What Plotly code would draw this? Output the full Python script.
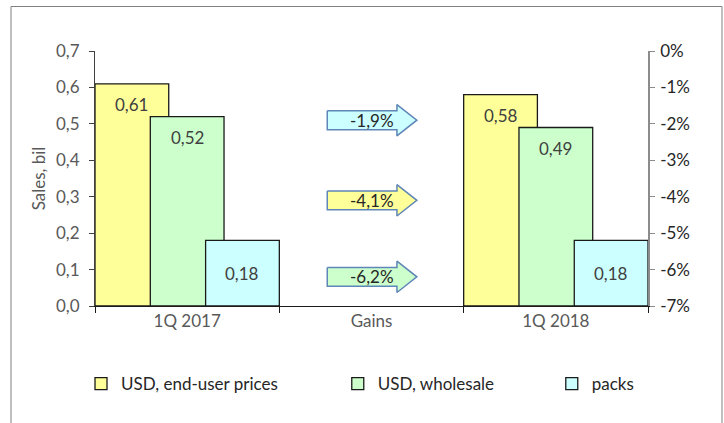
import plotly.graph_objects as go

# ---- data ----
categories = ["1Q 2017", "Gains", "1Q 2018"]
bar_periods = ["1Q 2017", "1Q 2018"]
series_names = ["USD, end-user prices", "USD, wholesale", "packs"]
end_user = [0.61, 0.58]
wholesale = [0.52, 0.49]
packs = [0.18, 0.18]
gains = [-4.1, -6.2, -1.9]          # end-user, wholesale, packs (%)
y_ticks = [0, 0.1, 0.2, 0.3, 0.4, 0.5, 0.6, 0.7]
y2_tickvals = [0, -1, -2, -3, -4, -5, -6, -7]
y2_ticktext = ["0%", "-1%", "-2%", "-3%", "-4%", "-5%", "-6%", "-7%"]

colors = ["#FFFF99", "#CCFFCC", "#CCFFFF"]
FONT = "Lato"
GRAY = "#595959"
FS = 17

BAR_W = 0.4
offsets = [-0.5, -0.2, 0.1]
series_values = [end_user, wholesale, packs]

fig = go.Figure()
legend_ids = ["legend", "legend2", "legend3"]
for name, vals, col, off, lg in zip(series_names, series_values, colors, offsets, legend_ids):
    fig.add_trace(go.Bar(
        x=bar_periods, y=vals, name=name, width=BAR_W, offset=off,
        marker=dict(color=col, line=dict(color="#1a1a1a", width=1.3)),
        legend=lg, hoverinfo="skip",
    ))

# gain arrows (on secondary axes)
BH, HH = 0.26, 0.43
XL, XB, XT = -0.24, 0.138, 0.246
xc = categories.index("Gains")
for v, col in zip(gains, colors):
    xs = [xc + XL, xc + XB, xc + XB, xc + XT, xc + XB, xc + XB, xc + XL, xc + XL]
    ys = [v + BH, v + BH, v + HH, v, v - HH, v - BH, v - BH, v + BH]
    fig.add_trace(go.Scatter(
        x=xs, y=ys, xaxis="x2", yaxis="y2", mode="lines", fill="toself",
        fillcolor=col, line=dict(color="#5F86B8", width=1.5),
        showlegend=False, hoverinfo="skip",
    ))
    fig.add_annotation(
        x=xc, y=v, xref="x2", yref="y2",
        text=f"{v:.1f}".replace(".", ",") + "%", showarrow=False,
        font=dict(family=FONT, size=FS, color="#262626"),
    )

# bar value labels
for vals, off in zip(series_values, offsets):
    for period, v in zip(bar_periods, vals):
        xi = categories.index(period) + off + BAR_W / 2
        tall = v > 0.3
        fig.add_annotation(
            x=xi, y=v if tall else v / 2, xref="x2", yref="y",
            yanchor="top" if tall else "middle", yshift=-8 if tall else 0,
            text=f"{v:.2f}".replace(".", ","), showarrow=False,
            font=dict(family=FONT, size=FS, color="#404040"),
        )

# outer frame
fig.add_shape(type="rect", xref="paper", yref="paper",
              x0=-0.1519, x1=1.1338, y0=-0.7, y1=1.1745,
              line=dict(color="#808080", width=1), fillcolor="rgba(0,0,0,0)",
              layer="below")

legend_common = dict(orientation="h", yanchor="middle", y=-0.306,
                     xanchor="left", font=dict(family=FONT, size=FS, color="#262626"),
                     itemwidth=30, bgcolor="rgba(0,0,0,0)")

fig.update_layout(
    width=724, height=423,
    margin=dict(l=95, r=76, t=51, b=117),
    paper_bgcolor="white", plot_bgcolor="white",
    barmode="overlay",
    separators=", ",
    font=dict(family=FONT, size=FS, color=GRAY),
    xaxis=dict(
        type="category", categoryorder="array", categoryarray=categories,
        range=[-0.5, 2.5], showline=True, linecolor="#1a1a1a", linewidth=1,
        ticks="outside", tickson="boundaries", ticklen=6, tickcolor="#1a1a1a",
        tickfont=dict(family=FONT, size=FS, color=GRAY), showgrid=False,
    ),
    xaxis2=dict(overlaying="x", range=[-0.5, 2.5], visible=False, anchor="y"),
    yaxis=dict(
        range=[0, 0.7], tickvals=y_ticks, tickformat=".1f",
        showline=True, linecolor="#404040", linewidth=1,
        ticks="outside", ticklen=5, tickcolor="#404040", ticklabelstandoff=6,
        tickfont=dict(family=FONT, size=FS, color=GRAY), showgrid=False,
        zeroline=False,
        title=dict(text="Sales, bil", font=dict(family=FONT, size=FS, color=GRAY), standoff=6),
    ),
    yaxis2=dict(
        overlaying="y", side="right", anchor="x", range=[-7, 0],
        tickvals=y2_tickvals, ticktext=y2_ticktext,
        showline=True, linecolor="#8C8C8C", linewidth=1.5,
        ticks="outside", ticklen=5, tickcolor="#8C8C8C", ticklabelstandoff=2,
        tickfont=dict(family=FONT, size=FS, color="#262626"), showgrid=False,
        zeroline=False,
    ),
    legend=dict(legend_common, x=-0.0253),
    legend2=dict(legend_common, x=0.439),
    legend3=dict(legend_common, x=0.826),
    showlegend=True,
)

fig.write_html("out.html", config={"displayModeBar": False},
               post_script="document.body.style.margin='0px';document.body.style.overflow='hidden';")
